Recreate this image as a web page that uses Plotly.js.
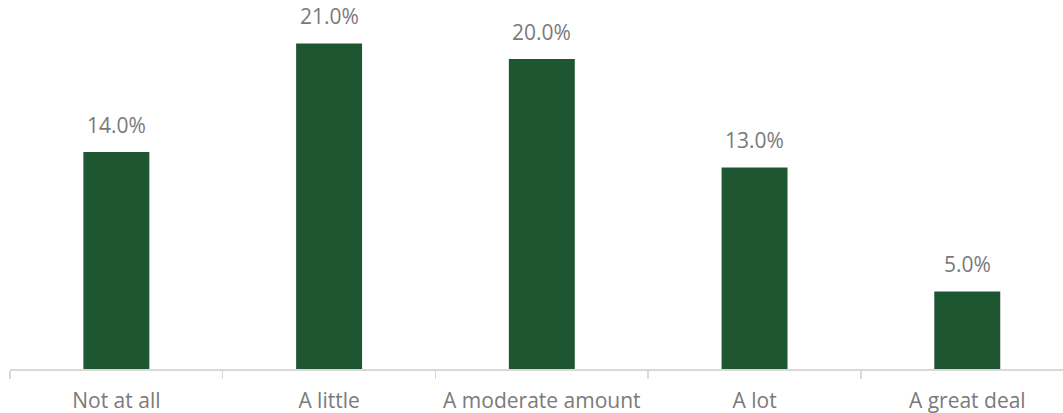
<!DOCTYPE html>
<html>
<head>
<meta charset="utf-8">
<script src="https://cdn.plot.ly/plotly-3.0.1.min.js"></script>
<style>html,body{margin:0;padding:0;background:#fff;}#chart{width:1063px;height:413px;}</style>
</head>
<body>
<div id="chart"></div>
<script>
const categories = ["Not at all", "A little", "A moderate amount", "A lot", "A great deal"];
const values = [0.14, 0.21, 0.20, 0.13, 0.05];
const labels = values.map(v => (v * 100).toFixed(1) + "%");

const textColor = "#7a7a7a";
const font = {family: "Open Sans, sans-serif", size: 21, color: textColor};

const trace = {
  type: "bar",
  x: categories,
  y: values,
  marker: {color: "#1e5632"},
  width: 0.31,
  hoverinfo: "none"
};

const annotations = categories.map((c, i) => ({
  x: c, y: values[i], text: labels[i], xref: "x", yref: "y",
  showarrow: false, yanchor: "bottom", yshift: 11, font: font
}));

const layout = {
  width: 1063, height: 413,
  margin: {l: 10, r: 0, t: 0, b: 44},
  paper_bgcolor: "#fff", plot_bgcolor: "#fff",
  showlegend: false,
  font: font,
  xaxis: {
    type: "category",
    range: [-0.5, 4.45],
    showline: true, linecolor: "#d9d9d9", linewidth: 1.5,
    ticks: "outside", tickson: "boundaries", ticklen: 8, tickcolor: "#d9d9d9", tickwidth: 1.5,
    ticklabelstandoff: 12,
    tickfont: font, showgrid: false, zeroline: false, fixedrange: true
  },
  yaxis: {
    range: [0, 0.238], visible: false, showgrid: false, zeroline: false, fixedrange: true
  },
  annotations: annotations
};

Plotly.newPlot("chart", [trace], layout, {staticPlot: true, displayModeBar: false});
</script>
</body>
</html>
